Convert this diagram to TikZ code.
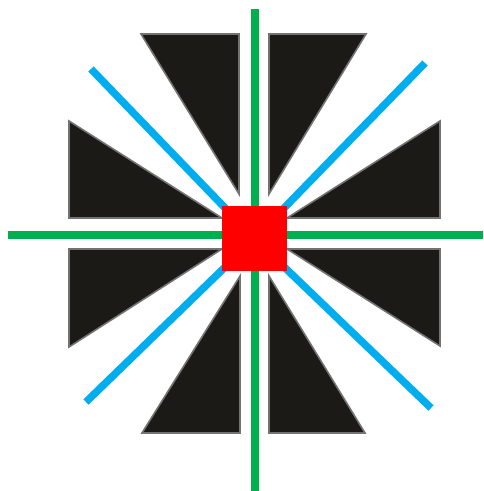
\documentclass[tikz,border=0pt]{standalone}
\definecolor{gline}{HTML}{00B050}
\definecolor{bline}{HTML}{00AEEF}
\definecolor{tri}{HTML}{1C1A17}
\begin{document}
\begin{tikzpicture}[x=0.75pt,y=-0.75pt,
  wedge/.style={fill=tri,draw=black!55,line width=1.2pt,line join=miter},
  greenline/.style={draw=gline,line width=6.2pt},
  blueline/.style={draw=bline,line width=5.6pt}]
\useasboundingbox (0,0) rectangle (483,491);
\fill[white] (0,0) rectangle (483,491);
% triangles
\path[wedge] (141,34) -- (239,34) -- (239,194) -- cycle;
\path[wedge] (366,34) -- (269,34) -- (269,194) -- cycle;
\path[wedge] (69,121) -- (69,218) -- (222,218) -- cycle;
\path[wedge] (440,121) -- (440,218) -- (287,218) -- cycle;
\path[wedge] (69,347) -- (69,249) -- (222,249) -- cycle;
\path[wedge] (440,346) -- (440,249) -- (287,249) -- cycle;
\path[wedge] (142,433) -- (240,433) -- (240,276) -- cycle;
\path[wedge] (365,433) -- (269,433) -- (269,276) -- cycle;
% centre
\coordinate (c) at (254.5,238.5);
\coordinate (tl) at (91,69);
\coordinate (tr) at (425,63);
\coordinate (bl) at (86,402);
\coordinate (br) at (431,408);
\coordinate (gt) at (255,9);
\coordinate (gb) at (255,491);
\coordinate (gl) at (8,235);
\coordinate (gr) at (483,235);
\draw[blueline] (tl) -- (c);
\draw[blueline] (tr) -- (c);
\draw[blueline] (bl) -- (c);
\draw[blueline] (br) -- (c);
\draw[greenline] (gt) -- (gb);
\draw[greenline] (gl) -- (gr);
\node[fill=red,minimum size=48.75pt,inner sep=0pt,draw=none] (sq) at (c) {};
\end{tikzpicture}
\end{document}
